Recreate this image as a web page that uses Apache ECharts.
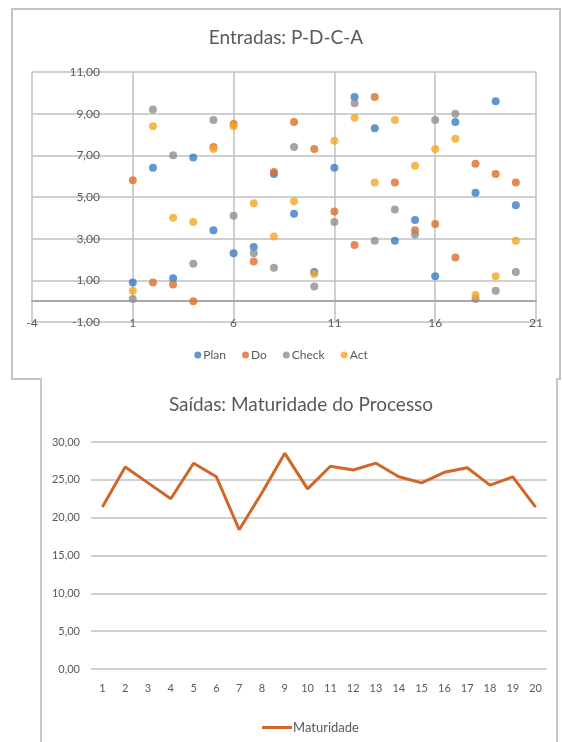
<!DOCTYPE html>
<html>
<head>
<meta charset="utf-8">
<script src="https://cdn.jsdelivr.net/npm/echarts@6/dist/echarts.min.js"></script>
<style>
  html, body { margin: 0; padding: 0; background: #ffffff; }
  body { width: 562px; height: 742px; position: relative; overflow: hidden; }
  .frame { position: absolute; box-sizing: border-box; background: #ffffff; }
  #frameTop { left: 11px; top: 8px; width: 550px; height: 372px; border: 2px solid #c8c1bc; }
  #frameBottom { left: 40px; top: 378px; width: 518px; height: 380px; border: 2px solid #cdc7c3; border-top: none; }
  #chart { position: absolute; left: 0; top: 0; width: 562px; height: 742px; }
</style>
</head>
<body>
<div class="frame" id="frameTop"></div>
<div class="frame" id="frameBottom"></div>
<div id="chart"></div>
<script>
// P-D-C-A inputs, one value per item 1..20
const itemIds = [1, 2, 3, 4, 5, 6, 7, 8, 9, 10, 11, 12, 13, 14, 15, 16, 17, 18, 19, 20];
const planVals  = [0.9, 6.4, 1.1, 6.9, 3.4, 2.3, 2.6, 6.1, 4.2, 1.4, 6.4, 9.8, 8.3, 2.9, 3.9, 1.2, 8.6, 5.2, 9.6, 4.6];
const doVals    = [5.8, 0.9, 0.8, 0.0, 7.4, 8.5, 1.9, 6.2, 8.6, 7.3, 4.3, 2.7, 9.8, 5.7, 3.4, 3.7, 2.1, 6.6, 6.1, 5.7];
const checkVals = [0.1, 9.2, 7.0, 1.8, 8.7, 4.1, 2.3, 1.6, 7.4, 0.7, 3.8, 9.5, 2.9, 4.4, 3.2, 8.7, 9.0, 0.1, 0.5, 1.4];
const actVals   = [0.5, 8.4, 4.0, 3.8, 7.3, 8.4, 4.7, 3.1, 4.8, 1.3, 7.7, 8.8, 5.7, 8.7, 6.5, 7.3, 7.8, 0.3, 1.2, 2.9];

// Process maturity output per item
const maturityCats = ['1','2','3','4','5','6','7','8','9','10','11','12','13','14','15','16','17','18','19','20'];
const maturityVals = [21.4, 26.7, 24.6, 22.5, 27.2, 25.4, 18.4, 23.3, 28.5, 23.8, 26.8, 26.3, 27.2, 25.4, 24.6, 26.0, 26.6, 24.3, 25.4, 21.4];

const seriesNames = ['Plan', 'Do', 'Check', 'Act'];
const seriesColors = ['#3a7cc2', '#dd6d28', '#8f8f8f', '#f5a823'];
const lineColor = '#cf6728';

const FONT = 'Lato, "Open Sans", sans-serif';
const TXT = '#595959';
const GRIDC = '#c0c0c0';

const comma2 = v => v.toFixed(2).replace('.', ',');
const pairs = vals => itemIds.map((x, i) => [x, vals[i]]);

const chart = echarts.init(document.getElementById('chart'), null, { renderer: 'canvas' });

const scatterSeries = [planVals, doVals, checkVals, actVals].map((vals, i) => ({
  name: seriesNames[i],
  type: 'scatter',
  xAxisIndex: 0,
  yAxisIndex: 0,
  symbol: 'circle',
  symbolSize: 8,
  itemStyle: { color: seriesColors[i] },
  data: pairs(vals)
}));

chart.setOption({
  backgroundColor: 'transparent',
  animation: false,
  textStyle: { fontFamily: FONT },
  title: [
    {
      text: 'Entradas: P-D-C-A',
      left: 286, top: 28, textAlign: 'center', padding: 0,
      textStyle: { fontFamily: FONT, fontSize: 19, fontWeight: 'normal', color: TXT }
    },
    {
      text: 'Saídas: Maturidade do Processo',
      left: 301, top: 395, textAlign: 'center', padding: 0,
      textStyle: { fontFamily: FONT, fontSize: 19, fontWeight: 'normal', color: TXT }
    }
  ],
  legend: [
    {
      data: seriesNames,
      left: 'center', top: 344,
      itemWidth: 7, itemHeight: 7, itemGap: 16,
      icon: 'circle',
      textStyle: { fontFamily: FONT, fontSize: 12, color: TXT, padding: [0, 0, 0, -3] }
    },
    {
      data: [{ name: 'Maturidade', icon: 'rect' }],
      left: 257, top: 716,
      itemWidth: 30, itemHeight: 3, itemGap: 0,
      textStyle: { fontFamily: FONT, fontSize: 13, color: TXT, padding: [0, 0, 0, -4] }
    }
  ],
  grid: [
    { left: 32, right: 26, top: 72, bottom: 420, containLabel: false },
    { left: 91, right: 15, top: 442, bottom: 73, containLabel: false }
  ],
  xAxis: [
    {
      gridIndex: 0, type: 'value', min: -4, max: 21, interval: 5,
      axisLine: { show: true, onZero: true, lineStyle: { color: '#a9a9a9', width: 2 } },
      axisTick: { show: false },
      axisLabel: { margin: -5, fontSize: 12, color: TXT, fontFamily: FONT },
      splitLine: { show: true, lineStyle: { color: GRIDC, width: 1.5 } }
    },
    {
      gridIndex: 1, type: 'category', data: maturityCats, boundaryGap: true,
      axisLine: { show: false },
      axisTick: { show: false },
      axisLabel: { margin: 14, fontSize: 11, color: TXT, fontFamily: FONT, interval: 0 },
      splitLine: { show: false }
    }
  ],
  yAxis: [
    {
      gridIndex: 0, type: 'value', min: -1, max: 11, interval: 2,
      axisLine: { show: false },
      axisTick: { show: false },
      axisLabel: { margin: -68, fontSize: 12, color: TXT, fontFamily: FONT, formatter: comma2 },
      splitLine: { show: true, lineStyle: { color: GRIDC, width: 1.5 } }
    },
    {
      gridIndex: 1, type: 'value', min: 0, max: 30, interval: 5,
      axisLine: { show: false },
      axisTick: { show: false },
      axisLabel: { margin: 11, fontSize: 11, color: TXT, fontFamily: FONT, formatter: comma2 },
      splitLine: { show: true, lineStyle: { color: GRIDC, width: 1.5 } }
    }
  ],
  series: scatterSeries.concat([
    {
      name: 'Maturidade',
      type: 'line',
      xAxisIndex: 1,
      yAxisIndex: 1,
      data: maturityVals,
      symbol: 'none',
      showSymbol: false,
      lineStyle: { color: lineColor, width: 3 },
      itemStyle: { color: lineColor }
    }
  ])
});
</script>
</body>
</html>
